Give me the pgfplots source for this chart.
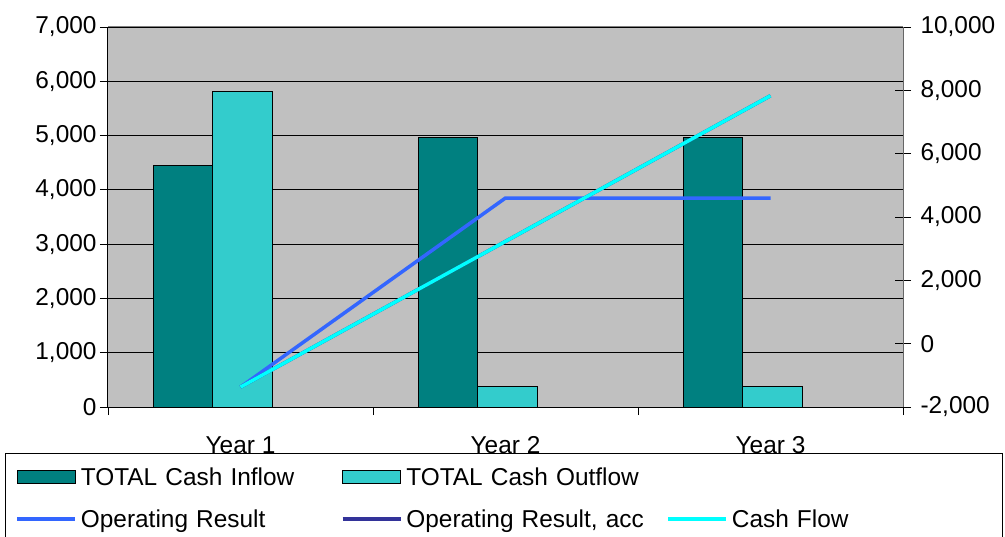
\documentclass[border=0pt]{standalone}
\usepackage{pgfplots}
\pgfplotsset{compat=1.18}
\usepackage{fontspec}
\setmainfont{Liberation Sans}
\definecolor{inflow}{HTML}{008080}
\definecolor{outflow}{HTML}{33CCCC}
\definecolor{opres}{HTML}{3366FF}
\definecolor{opacc}{HTML}{333399}
\definecolor{cashflow}{HTML}{00FFFF}
\definecolor{plotbg}{HTML}{C0C0C0}
\pgfplotsset{
  barleg/.style={legend image code/.code={\draw[##1] (0bp,-6.5bp) rectangle (58bp,6.5bp);}},
  lineleg/.style={legend image code/.code={\draw[##1] (0bp,0bp) -- (58bp,0bp);}},
}
\begin{document}
\begin{tikzpicture}
\pgfplotsset{
  every axis/.append style={
    scale only axis, width=795bp, height=380bp, xmin=0.5, xmax=3.5,
    /pgf/number format/.cd, 1000 sep={,}, assume math mode=true, /pgfplots/.cd,
    tick label style={font=\fontsize{24.5}{29}\selectfont},
    scaled y ticks=false,
  },
}
\begin{axis}[
  at={(0,0)}, anchor=south west,
  axis background/.style={fill=plotbg},
  ymin=0, ymax=7000, ytick={0,1000,...,7000},
  ymajorgrids, grid style={black, line width=0.8bp},
  axis y line*=left, axis x line*=bottom,
  axis line style={black, line width=1bp},
  ybar=0pt, bar width=59.5bp,
  xtick={0.5,1.5,2.5,3.5}, xticklabels={},
  extra x ticks={1,2,3}, extra x tick labels={Year 1,Year 2,Year 3},
  extra x tick style={major tick length=0pt},
  xtick align=outside, ytick align=outside,
  major tick length=8bp,
  tick style={black, line width=0.8bp},
  xticklabel style={yshift=-26bp},
]
\addplot[fill=inflow, draw=black, line width=1bp, bar shift=-57.5bp] coordinates {(1,4450) (2,4970) (3,4970)};
\addplot[fill=outflow, draw=black, line width=1bp, bar shift=2bp] coordinates {(1,5820) (2,370) (3,370)};
\draw[gray, line width=1bp] (rel axis cs:0,1) -- (rel axis cs:1,1);
\end{axis}
\begin{axis}[
  at={(0,0)}, anchor=south west,
  axis y line*=right, axis x line=none,
  axis line style={black!60, line width=1bp},
  ymin=-2000, ymax=10000, ytick={-2000,0,...,10000},
  ytick align=center, major tick length=16bp,
  tick style={black, line width=0.8bp},
  yticklabel style={xshift=6bp},
  legend columns=3,
  legend cell align=left,
  legend style={
    at={(-0.12956,-0.12105)}, anchor=north west,
    draw=black, line width=0.8bp, fill=white,
    font=\fontsize{24.5}{29}\selectfont,
    inner xsep=10bp, inner ysep=12bp,
    nodes={text width=256bp, inner xsep=4bp},
    /tikz/row sep=19bp,
  },
]
\addlegendimage{fill=inflow, draw=black, line width=1bp, barleg}
\addlegendentry{TOTAL Cash Inflow}
\addlegendimage{fill=outflow, draw=black, line width=1bp, barleg}
\addlegendentry{TOTAL Cash Outflow}
\addlegendimage{empty legend}
\addlegendentry{}
\addplot[opres, line width=3.5bp, lineleg] coordinates {(1,-1370) (2,4600) (3,4600)};
\addlegendentry{Operating Result}
\addplot[opacc, line width=3.5bp, lineleg] coordinates {(1,-1370) (2,3230) (3,7830)};
\addlegendentry{Operating Result, acc}
\addplot[cashflow, line width=3.5bp, lineleg] coordinates {(1,-1370) (2,3230) (3,7830)};
\addlegendentry{Cash Flow}
\end{axis}
\pgfresetboundingbox
\path[use as bounding box] (-108bp,-130bp) rectangle (897bp,407bp);
\end{tikzpicture}
\end{document}
